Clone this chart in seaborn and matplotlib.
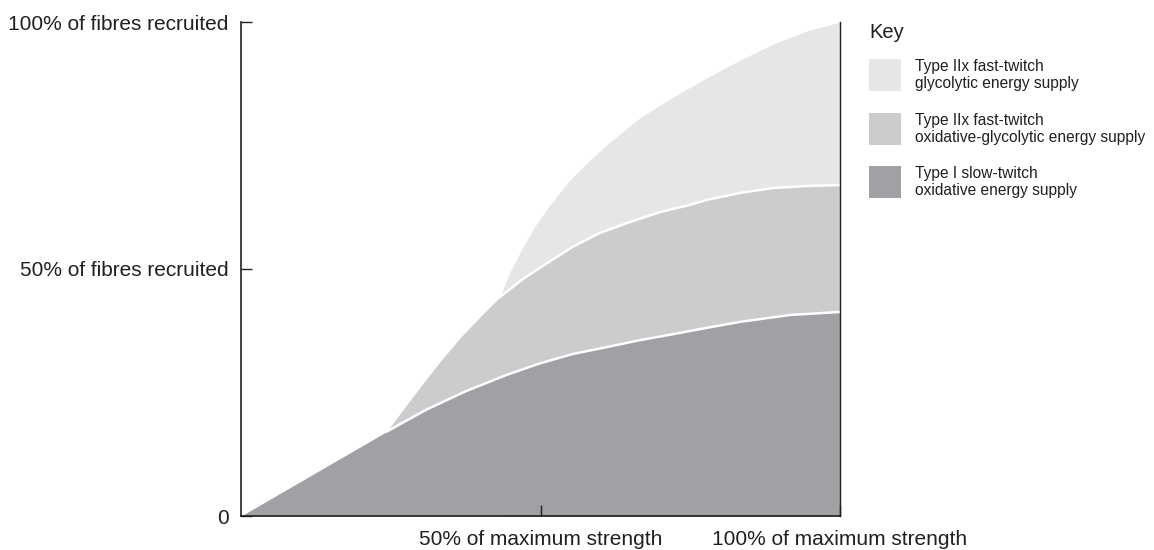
import numpy as np
import matplotlib
matplotlib.use("Agg")
import matplotlib.pyplot as plt
import seaborn as sns
from matplotlib.patches import Rectangle

# ---- data (percent of maximum strength vs percent of fibres recruited) ----
type1_x = [0, 24.2, 30.9, 37.6, 44.2, 49.9, 55.4, 61.1, 66.6, 72.1, 77.8,
           83.3, 91.7, 100]
type1_y = [0, 17.0, 21.5, 25.3, 28.5, 30.9, 32.8, 34.2, 35.6, 36.8, 38.1,
           39.3, 40.7, 41.3]

oxgly_x = [24.3, 29.9, 33.2, 36.6, 39.9, 43.2, 47.1, 51.1, 55.4, 59.9, 64.9,
           69.9, 75.0, 77.8, 83.3, 88.8, 94.5, 100]
oxgly_y = [17.1, 26.1, 31.2, 36.1, 40.3, 44.3, 48.0, 51.2, 54.5, 57.3, 59.5,
           61.5, 63.0, 64.0, 65.4, 66.4, 66.8, 67.0]

gly_x = [43.2, 44.9, 46.6, 49.1, 51.6, 54.9, 58.3, 61.6, 66.6, 72.1, 77.8,
         83.3, 88.8, 94.5, 100]
gly_y = [44.3, 49.4, 53.4, 58.7, 63.0, 68.0, 72.1, 75.7, 80.6, 84.8, 88.7,
         92.3, 95.5, 98.2, 100]

x_ticks = [50, 100]
x_labels = ["50% of maximum strength", "100% of maximum strength"]
y_ticks = [0, 50, 100]
y_labels = ["0", "50% of fibres recruited", "100% of fibres recruited"]

key_title = "Key"
key_labels = ["Type IIx fast-twitch\nglycolytic energy supply",
              "Type IIx fast-twitch\noxidative-glycolytic energy supply",
              "Type I slow-twitch\noxidative energy supply"]
colors = ["#e5e6e8", "#cbccce", "#a0a1a5"]

# ---- style ----
sns.set_style("white")
plt.rcParams["font.family"] = ["Liberation Sans", "DejaVu Sans"]
ink = "#231f20"

W, H = 1154, 550
fig = plt.figure(figsize=(W / 100, H / 100), dpi=100)
ax = fig.add_axes([241 / W, 34 / H, 599 / W, 494 / H])

# layered fills: glycolytic, then oxidative-glycolytic, then type I on top
ax.fill_between(gly_x, 0, gly_y, color=colors[0], linewidth=0, zorder=1.0)
ax.fill_between(oxgly_x, 0, oxgly_y, color=colors[1], linewidth=0, zorder=1.1)
ax.fill_between(type1_x, 0, type1_y, color=colors[2], linewidth=0, zorder=1.2)

# white boundary lines between stacked regions
sns.lineplot(x=type1_x[1:], y=type1_y[1:], color="white", lw=1.8, ax=ax,
             zorder=1.5, sort=False)
sns.lineplot(x=oxgly_x[5:], y=oxgly_y[5:], color="white", lw=1.8, ax=ax,
             zorder=1.5, sort=False)

ax.set_xlim(0, 100)
ax.set_ylim(0, 100)
ax.set_xticks(x_ticks)
ax.set_xticklabels(x_labels)
ax.set_yticks(y_ticks)
ax.set_yticklabels(y_labels)
ax.tick_params(axis="both", which="major", bottom=True, left=True,
               direction="in", length=8, width=1, color=ink,
               labelsize=15, labelcolor=ink)
ax.tick_params(axis="x", pad=10)
ax.tick_params(axis="y", pad=9)
ax.set_axisbelow(False)

for side in ["left", "bottom", "right"]:
    ax.spines[side].set_visible(True)
    ax.spines[side].set_color(ink)
    ax.spines[side].set_linewidth(1.2)
    ax.spines[side].set_zorder(3)
ax.spines["top"].set_visible(False)
ax.spines["right"].set_linewidth(1.0)
ax.set_xlabel("")
ax.set_ylabel("")

# ---- key ----
fig.text(869 / W, 1 - 33 / H, key_title, fontsize=14.5, color=ink,
         va="center", ha="left")
box_tops = [59, 113, 166]
for top, lab, col in zip(box_tops, key_labels, colors):
    fig.add_artist(Rectangle((869 / W, 1 - (top + 32) / H), 32 / W, 32 / H,
                             transform=fig.transFigure, facecolor=col,
                             edgecolor="none"))
    fig.text(915 / W, 1 - (top + 16) / H, lab, fontsize=11.2, color=ink,
             va="center", ha="left", linespacing=1.1)

fig.savefig("out.png", dpi=100)
